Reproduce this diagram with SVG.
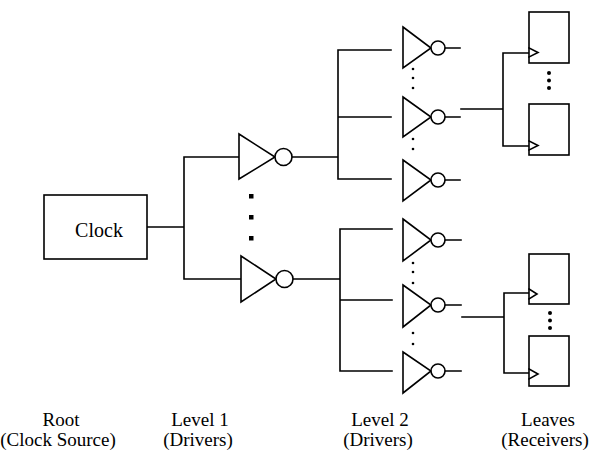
<svg xmlns="http://www.w3.org/2000/svg" width="606" height="467" viewBox="0 0 606 467">
<style>
.w{fill:none;stroke:#000;stroke-width:1.6;stroke-linecap:square}
.g{fill:#fff;stroke:#000;stroke-width:1.6;stroke-linejoin:miter}
.t{font-family:"Liberation Serif","Times New Roman",serif;font-size:19px;fill:#000;text-anchor:middle}
.c{font-size:20px}
.d{fill:#000}
</style>
<rect width="606" height="467" fill="#fff"/>
<g id="connectors" class="w">
<path d="M147 227H184M184 157V279M184 157H239M184 279H241"/>
<path d="M292 157H338M338 50V179M338 50H391M338 117H391M338 179H391"/>
<path d="M292 279H340M340 229V371M340 229H392M340 300H392M340 371H392"/>
<path d="M445 48H460M445 117H460M445 180H460M445 240H461M445 305H461M445 371H461"/>
<path d="M461 109H503M503 53V146M503 53H529M503 146H529"/>
<path d="M462 317H504M504 293V373M504 293H529M504 373H529"/>
</g>
<g id="root">
<rect class="g" x="44" y="195" width="103" height="64"/>
<text class="t c" x="99" y="237">Clock</text>
</g>
<g id="level1-top">
<path class="g" d="M239 134L275 157L239 179Z"/>
<circle class="g" cx="283.5" cy="157" r="8.5"/>
</g>
<g id="level1-bottom">
<path class="g" d="M241 256L276 279L241 302Z"/>
<circle class="g" cx="284.5" cy="279" r="8.5"/>
</g>
<g id="level1-dots" class="d">
<rect x="249" y="194" width="4.5" height="4.5"/>
<rect x="249" y="215" width="4.5" height="4.5"/>
<rect x="249" y="236" width="4.5" height="4.5"/>
</g>
<g id="level2-1"><path class="g" d="M403 27L431 48L403 68Z"/><circle class="g" cx="438" cy="48" r="7"/></g>
<g id="level2-2"><path class="g" d="M403 97L431 117L403 137Z"/><circle class="g" cx="438" cy="117" r="7"/></g>
<g id="level2-3"><path class="g" d="M403 160L431 180L403 201Z"/><circle class="g" cx="438" cy="180" r="7"/></g>
<g id="level2-4"><path class="g" d="M403 219L431 240L403 261Z"/><circle class="g" cx="438" cy="240" r="7"/></g>
<g id="level2-5"><path class="g" d="M403 285L431 305L403 327Z"/><circle class="g" cx="438" cy="305" r="7"/></g>
<g id="level2-6"><path class="g" d="M403 352L431 371L403 393Z"/><circle class="g" cx="438" cy="371" r="7"/></g>
<g id="level2-dots" class="d">
<circle cx="413" cy="69" r="1.3"/><circle cx="413" cy="78" r="1.3"/><circle cx="413" cy="88" r="1.3"/>
<circle cx="413" cy="139" r="1.3"/><circle cx="413" cy="149" r="1.3"/>
<circle cx="413" cy="263" r="1.3"/><circle cx="413" cy="272" r="1.3"/><circle cx="413" cy="283" r="1.3"/>
<circle cx="413" cy="333" r="1.3"/><circle cx="413" cy="344" r="1.3"/>
</g>
<g id="leaf-1"><rect class="g" x="529" y="12" width="40" height="51"/><path class="w" d="M529 48L538 52.5L529 57"/></g>
<g id="leaf-2"><rect class="g" x="529" y="104" width="40" height="51"/><path class="w" d="M529 141L538 145.5L529 150"/></g>
<g id="leaf-3"><rect class="g" x="529" y="254" width="40" height="50"/><path class="w" d="M529 289L537 294L529 299"/></g>
<g id="leaf-4"><rect class="g" x="529" y="336" width="40" height="50"/><path class="w" d="M529 369L538 374L529 379"/></g>
<g id="leaf-dots" class="d">
<circle cx="549" cy="73" r="2"/><circle cx="549" cy="80.5" r="2"/><circle cx="549" cy="88" r="2"/>
<circle cx="550" cy="313" r="2"/><circle cx="550" cy="320.5" r="2"/><circle cx="550" cy="328" r="2"/>
</g>
<g id="labels" class="t">
<text x="61" y="426">Root</text>
<text x="58" y="446">(Clock Source)</text>
<text x="200" y="426">Level 1</text>
<text x="198" y="446">(Drivers)</text>
<text x="380" y="426">Level 2</text>
<text x="378" y="446">(Drivers)</text>
<text x="548" y="426">Leaves</text>
<text x="545" y="446">(Receivers)</text>
</g>
</svg>
